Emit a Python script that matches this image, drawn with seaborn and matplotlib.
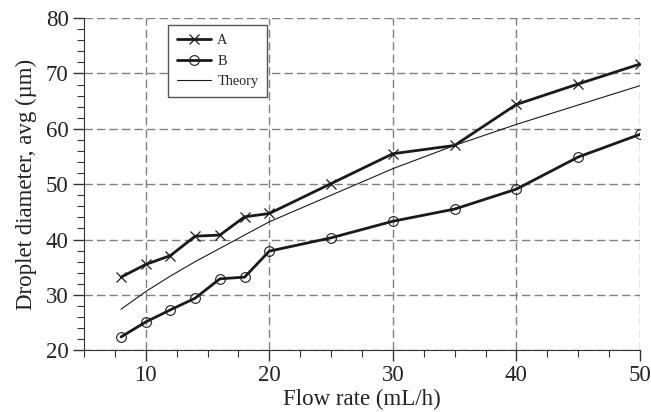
import pandas as pd
import matplotlib
matplotlib.use("Agg")
import matplotlib.pyplot as plt
from matplotlib.ticker import MultipleLocator
import seaborn as sns

flow = [8, 10, 12, 14, 16, 18, 20, 25, 30, 35, 40, 45, 50]
diam_a = [33.2, 35.5, 37.1, 40.6, 40.8, 44.1, 44.7, 50.1, 55.5, 57.0, 64.4, 68.1, 71.7]
diam_b = [22.4, 25.1, 27.3, 29.4, 32.9, 33.2, 37.9, 40.3, 43.3, 45.5, 49.1, 54.9, 59.0]
diam_theory = [27.4, 30.6, 33.4, 36.0, 38.4, 40.8, 43.2, 48.0, 52.8, 57.0, 60.8, 64.3, 67.8]

df = pd.DataFrame({"flow": flow, "A": diam_a, "B": diam_b, "Theory": diam_theory})

sns.set_style("ticks")
plt.rcParams['font.family'] = ['Liberation Serif', 'DejaVu Serif']

fig = plt.figure(figsize=(6.51, 4.12), dpi=100)
ax = fig.add_axes([0.129, 0.150, 0.854, 0.806])

ink = "#1a1a1a"
sns.lineplot(data=df, x="flow", y="A", ax=ax, color=ink, lw=2.0,
             marker="x", markersize=7, mec=ink, mew=0.9, label="A")
sns.lineplot(data=df, x="flow", y="B", ax=ax, color=ink, lw=2.0,
             marker="o", markersize=7, mfc="none", mec=ink, mew=0.8, label="B")
sns.lineplot(data=df, x="flow", y="Theory", ax=ax, color=ink, lw=0.8, label="Theory")

ax.set_xlim(5, 50)
ax.set_ylim(20, 80)
ax.xaxis.set_major_locator(MultipleLocator(10))
ax.xaxis.set_minor_locator(MultipleLocator(2.5))
ax.yaxis.set_major_locator(MultipleLocator(10))
ax.yaxis.set_minor_locator(MultipleLocator(2))
ax.grid(True, which="major", color="#808080", linestyle=(0, (6, 3)), lw=1.0)
ax.tick_params(which="major", direction="out", length=8, width=1, colors="#333333",
               labelsize=16.5, labelcolor="#222222", pad=3)
ax.tick_params(which="minor", direction="out", length=5, width=0.8, colors="#333333")
sns.despine(ax=ax)
for s in ["left", "bottom"]:
    ax.spines[s].set_color("#333333")

ax.set_xlabel("Flow rate (mL/h)", fontsize=16.5, color="#222222", labelpad=2)
ax.set_ylabel("Droplet diameter, avg (µm)", fontsize=16.5, color="#222222", labelpad=6)

leg = ax.legend(loc="upper left", bbox_to_anchor=(0.151, 0.979), borderaxespad=0,
                fontsize=10.3, fancybox=False, framealpha=1, edgecolor="#555555",
                handlelength=2.4, labelspacing=0.55, borderpad=0.6, handletextpad=0.45)
leg.get_frame().set_linewidth(1.0)

fig.savefig("out.png", dpi=100)
